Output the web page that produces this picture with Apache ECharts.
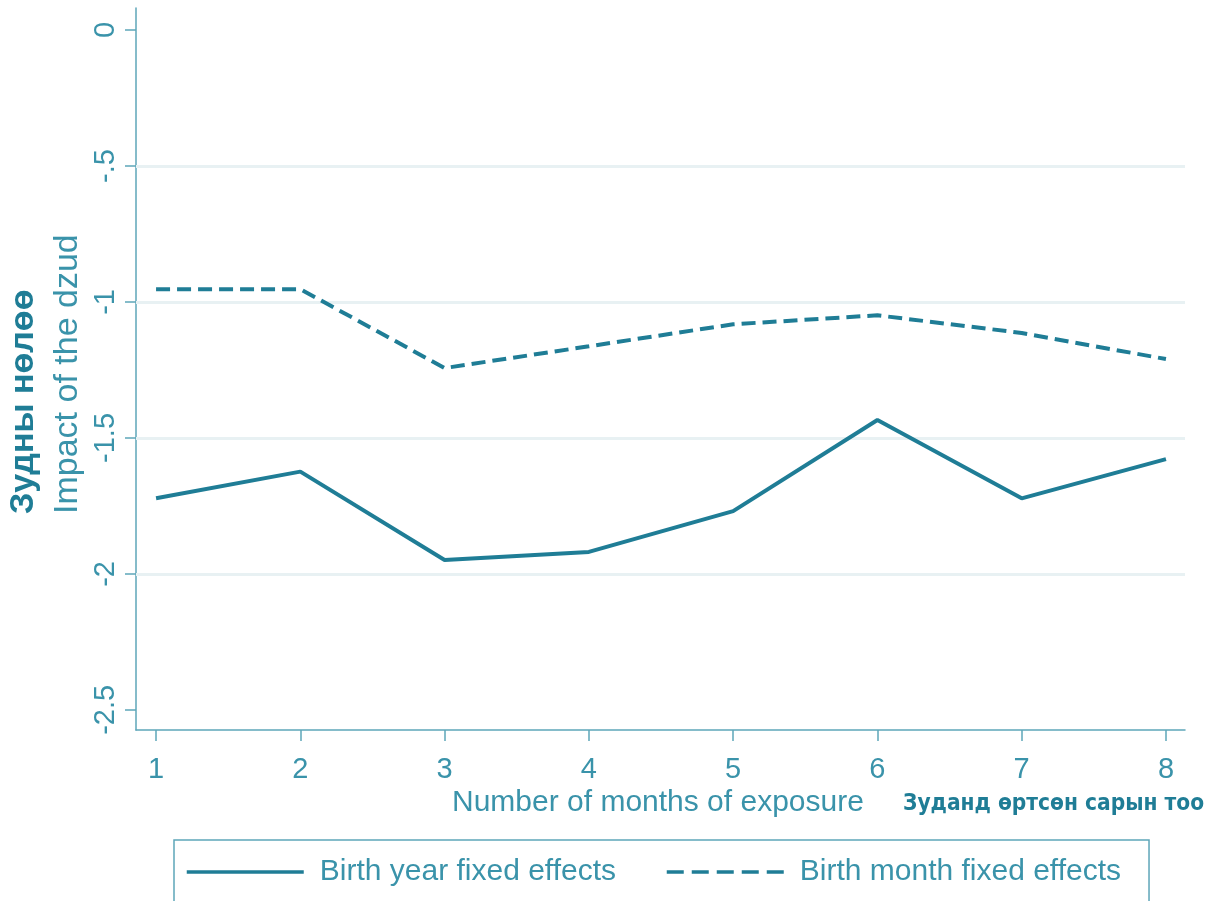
<!DOCTYPE html>
<html><head><meta charset="utf-8">
<script src="https://cdn.jsdelivr.net/npm/echarts@6/dist/echarts.min.js"></script>
<style>html,body{margin:0;padding:0;background:#fff}#c{width:1210px;height:901px}</style>
</head><body><div id="c"></div>
<script>
const months = [1, 2, 3, 4, 5, 6, 7, 8];
const birthYearFE = [-1.722, -1.624, -1.949, -1.919, -1.769, -1.434, -1.722, -1.578];
const birthMonthFE = [-0.953, -0.953, -1.243, -1.163, -1.082, -1.049, -1.114, -1.210];
const yTicks = [0, -0.5, -1, -1.5, -2, -2.5];
const yTickLabels = ['0', '-.5', '-1', '-1.5', '-2', '-2.5'];
const gridValues = [-0.5, -1, -1.5, -2];
const xTicks = [1, 2, 3, 4, 5, 6, 7, 8];

const lineC = '#1f7d96';
const textC = '#3a93aa';
const axisC = '#5ea6b9';
const font = 'Liberation Sans, Arial, sans-serif';

const chart = echarts.init(document.getElementById('c'), null, {renderer: 'canvas'});
chart.setOption({
  backgroundColor: '#fff',
  animation: false,
  grid: {left: 136, right: 25, top: 8, bottom: 171},
  xAxis: {
    type: 'value', min: 0.861, max: 8.132,
    axisLine: {show: true, onZero: false, lineStyle: {color: axisC, width: 1.5}},
    axisTick: {show: true, customValues: xTicks, length: 11, lineStyle: {color: axisC, width: 1.5}},
    axisLabel: {customValues: xTicks, color: textC, fontSize: 29, fontFamily: font, margin: 25,
      formatter: v => String(v)},
    splitLine: {show: false}
  },
  yAxis: {
    type: 'value', min: -2.574, max: 0.081,
    axisLine: {show: true, onZero: false, lineStyle: {color: axisC, width: 1.5}},
    axisTick: {show: true, customValues: yTicks, length: 11, lineStyle: {color: axisC, width: 1.5}},
    axisLabel: {customValues: yTicks, color: textC, fontSize: 29, fontFamily: font, rotate: 90, margin: 16,
      formatter: v => yTickLabels[yTicks.indexOf(Math.round(v * 10) / 10)] ?? ''},
    splitLine: {show: false}
  },
  legend: {
    left: 174, top: 840,
    padding: [17, 28, 30, 11],
    itemGap: 49, itemWidth: 117, itemHeight: 14,
    borderColor: axisC, borderWidth: 1.5, borderRadius: 0,
    itemStyle: {opacity: 0},
    lineStyle: {width: 3.5},
    textStyle: {color: textC, fontSize: 30, fontFamily: font, padding: [0, 0, 0, 11]},
    data: [
      {name: 'Birth year fixed effects'},
      {name: 'Birth month fixed effects', lineStyle: {width: 3.5, type: [17, 8]}}
    ]
  },
  graphic: [
    {type: 'text', x: 24, y: 514, rotation: Math.PI / 2,
      style: {text: 'Зудны нөлөө', fill: lineC, font: 'bold 34px ' + font, align: 'left', verticalAlign: 'middle'}},
    {type: 'text', x: 68, y: 514, rotation: Math.PI / 2,
      style: {text: 'Impact of the dzud', fill: textC, font: '34px ' + font, align: 'left', verticalAlign: 'middle'}},
    {type: 'text', x: 452, y: 803,
      style: {text: 'Number of months of exposure', fill: textC, font: '30px ' + font, align: 'left', verticalAlign: 'middle'}},
    {type: 'text', x: 903, y: 804,
      style: {text: 'Зуданд өртсөн сарын тоо', fill: lineC, font: 'bold 22.5px "DejaVu Sans Condensed", "Liberation Sans Narrow", sans-serif', align: 'left', verticalAlign: 'middle'}}
  ],
  series: [
    {
      name: 'Birth year fixed effects', type: 'line', symbol: 'none',
      data: months.map((m, i) => [m, birthYearFE[i]]),
      lineStyle: {color: lineC, width: 4, type: 'solid'},
      itemStyle: {color: lineC},
      z: 3,
      markLine: {
        silent: true, symbol: 'none', label: {show: false},
        lineStyle: {color: '#e8f1f3', width: 3, type: 'solid'},
        data: gridValues.map(v => ({yAxis: v})),
        z: 1
      }
    },
    {
      name: 'Birth month fixed effects', type: 'line', symbol: 'none',
      data: months.map((m, i) => [m, birthMonthFE[i]]),
      lineStyle: {color: lineC, width: 4, type: [14, 7]},
      itemStyle: {color: lineC},
      z: 3
    }
  ]
});
</script></body></html>
